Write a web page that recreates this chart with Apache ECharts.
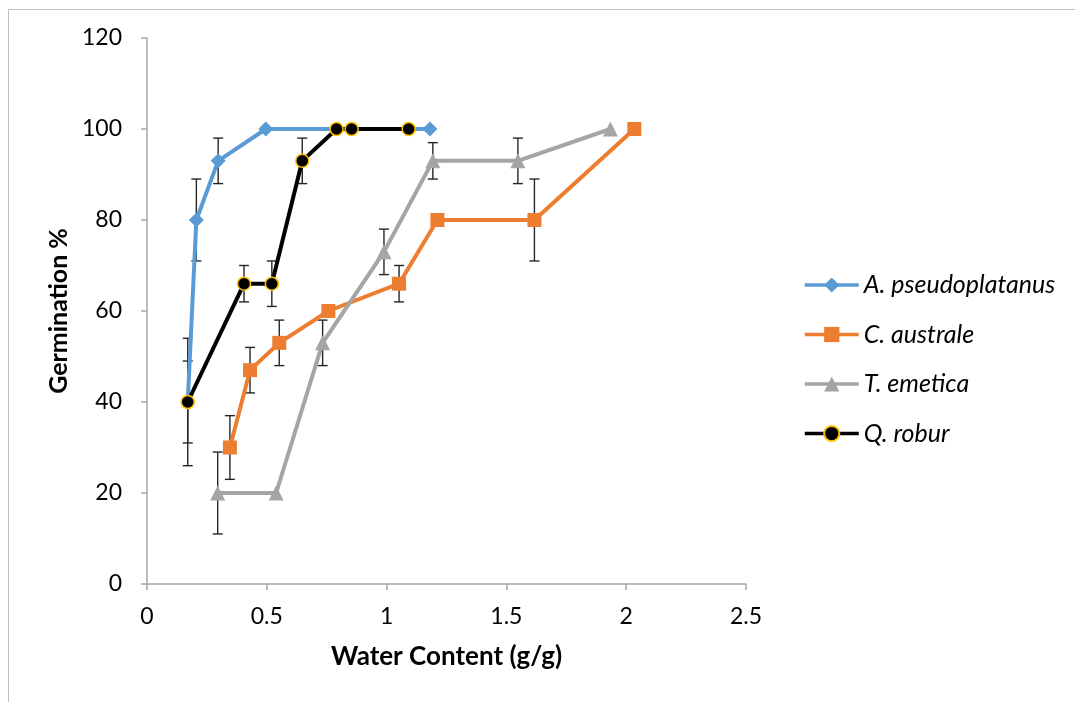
<!DOCTYPE html>
<html>
<head>
<meta charset="utf-8">
<script src="https://cdn.jsdelivr.net/npm/echarts@6/dist/echarts.min.js"></script>
<style>
html,body{margin:0;padding:0;background:#fff;}
#chart{width:1075px;height:702px;}
</style>
</head>
<body>
<div id="chart"></div>
<script>
// ---- Data ----
const seriesNames = ['A. pseudoplatanus', 'C. australe', 'T. emetica', 'Q. robur'];

const xA = [0.17, 0.206, 0.297, 0.496, 1.181];
const yA = [40, 80, 93, 100, 100];
const eA = [14, 9, 5, 0, 0];

const xC = [0.346, 0.43, 0.552, 0.757, 1.052, 1.212, 1.617, 2.034];
const yC = [30, 47, 53, 60, 66, 80, 80, 100];
const eC = [7, 5, 5, 0, 4, 0, 9, 0];

const xT = [0.295, 0.539, 0.733, 0.989, 1.193, 1.548, 1.934];
const yT = [20, 20, 53, 73, 93, 93, 100];
const eT = [9, 0, 5, 5, 4, 5, 0];

const xQ = [0.17, 0.405, 0.521, 0.648, 0.791, 0.854, 1.092];
const yQ = [40, 66, 66, 93, 100, 100, 100];
const eQ = [9, 4, 5, 5, 0, 0, 0];

const xTicks = [0, 0.5, 1, 1.5, 2, 2.5];
const yTicks = [0, 20, 40, 60, 80, 100, 120];

// ---- Build options ----
const FONT = 'Lato, "Liberation Sans", sans-serif';
const zip = (xs, ys) => xs.map((x, i) => [x, ys[i]]);
const errData = (xs, ys, es) => xs.map((x, i) => [x, ys[i] - es[i], ys[i] + es[i]]).filter((d, i) => es[i] > 0);

function errSeries(name, data) {
  return {
    name: name + ' err',
    type: 'custom',
    data: data,
    encode: { x: 0, y: [1, 2] },
    z: 1,
    silent: true,
    renderItem: function (params, api) {
      const x = api.value(0);
      const lo = api.coord([x, api.value(1)]);
      const hi = api.coord([x, api.value(2)]);
      const hw = 5;
      const st = { stroke: '#262626', lineWidth: 1.4 };
      return {
        type: 'group',
        children: [
          { type: 'line', shape: { x1: lo[0], y1: lo[1], x2: hi[0], y2: hi[1] }, style: st },
          { type: 'line', shape: { x1: lo[0] - hw, y1: lo[1], x2: lo[0] + hw, y2: lo[1] }, style: st },
          { type: 'line', shape: { x1: hi[0] - hw, y1: hi[1], x2: hi[0] + hw, y2: hi[1] }, style: st }
        ]
      };
    }
  };
}

function lineSeries(name, data, color, symbol, size, itemStyle) {
  return {
    name: name,
    type: 'line',
    data: data,
    symbol: symbol,
    symbolSize: size,
    z: 3,
    lineStyle: { color: color, width: 4 },
    itemStyle: Object.assign({ color: color, opacity: 1 }, itemStyle || {}),
    emphasis: { disabled: true },
    animation: false
  };
}

const option = {
  animation: false,
  backgroundColor: '#fff',
  textStyle: { fontFamily: FONT },
  grid: { left: 147, top: 38, width: 599, height: 546, containLabel: false },
  xAxis: {
    type: 'value', min: 0, max: 2.5, interval: 0.5,
    name: 'Water Content (g/g)', nameLocation: 'middle', nameGap: 60,
    nameTextStyle: { fontFamily: FONT, fontSize: 26, fontWeight: 'bold', color: '#000' },
    axisLine: { show: true, lineStyle: { color: '#A6A6A6', width: 1.5 } },
    axisTick: { show: true, length: 6, lineStyle: { color: '#A6A6A6', width: 1.5 } },
    axisLabel: { fontFamily: FONT, fontSize: 23, color: '#000', margin: 21,
      formatter: v => (xTicks.includes(v) ? String(v) : '') },
    splitLine: { show: false }
  },
  yAxis: {
    type: 'value', min: 0, max: 120, interval: 20,
    name: 'Germination %', nameLocation: 'middle', nameGap: 74, nameRotate: 90,
    nameTextStyle: { fontFamily: FONT, fontSize: 25, fontWeight: 'bold', color: '#000' },
    axisLine: { show: true, lineStyle: { color: '#A6A6A6', width: 1.5 } },
    axisTick: { show: true, length: 6, lineStyle: { color: '#A6A6A6', width: 1.5 } },
    axisLabel: { fontFamily: FONT, fontSize: 23, color: '#000', margin: 25,
      formatter: v => (yTicks.includes(v) ? String(v) : '') },
    splitLine: { show: false }
  },
  legend: {
    orient: 'vertical', left: 803, top: 272, padding: 0,
    itemWidth: 54, itemHeight: 19, itemGap: 23.5,
    data: seriesNames,
    lineStyle: { width: 3.5 },
    textStyle: { fontFamily: FONT, fontSize: 25, lineHeight: 26, fontStyle: 'italic', color: '#000' }
  },
  graphic: [
    { type: 'line', shape: { x1: 8.5, y1: 9.5, x2: 1080, y2: 9.5 }, style: { stroke: '#BFBFBF', lineWidth: 1 }, silent: true },
    { type: 'line', shape: { x1: 8.5, y1: 9.5, x2: 8.5, y2: 710 }, style: { stroke: '#BFBFBF', lineWidth: 1 }, silent: true }
  ],
  series: [
    errSeries(seriesNames[0], errData(xA, yA, eA)),
    errSeries(seriesNames[1], errData(xC, yC, eC)),
    errSeries(seriesNames[2], errData(xT, yT, eT)),
    errSeries(seriesNames[3], errData(xQ, yQ, eQ)),
    lineSeries(seriesNames[0], zip(xA, yA), '#5B9BD5', 'diamond', 15),
    lineSeries(seriesNames[1], zip(xC, yC), '#ED7D31', 'rect', 14),
    lineSeries(seriesNames[2], zip(xT, yT), '#A5A5A5', 'triangle', 15),
    lineSeries(seriesNames[3], zip(xQ, yQ), '#000000', 'circle', 13,
      { color: '#000000', borderColor: '#FFC000', borderWidth: 1.5 })
  ]
};

const chart = echarts.init(document.getElementById('chart'), null, { renderer: 'canvas' });
chart.setOption(option);
</script>
</body>
</html>
